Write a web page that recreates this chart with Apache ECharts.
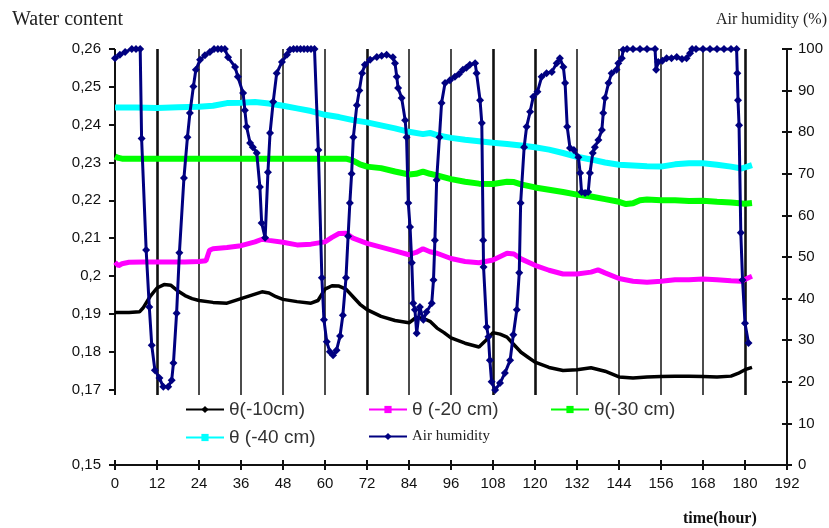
<!DOCTYPE html>
<html>
<head>
<meta charset="utf-8">
<script src="https://cdn.jsdelivr.net/npm/echarts@6/dist/echarts.min.js"></script>
<style>
  html, body { margin: 0; padding: 0; background: #fff; }
  #chart { width: 829px; height: 528px; }
</style>
</head>
<body>
<div id="chart"></div>
<script>
// Soil water content at four depths (left axis) and air humidity (right axis), [hour, value]
const theta10 = [[0,0.1903],[4,0.1903],[7,0.1905],[8,0.1915],[10,0.1945],[12,0.1968],[14,0.1977],[16,0.1975],[18,0.1960],[20,0.1948],[22,0.1940],[24,0.1935],[28,0.1930],[32,0.1928],[36,0.1940],[40,0.1952],[42,0.1958],[44,0.1955],[46,0.1945],[48,0.1938],[52,0.1932],[56,0.1928],[58,0.1935],[60,0.1965],[62,0.1974],[64,0.1973],[66,0.1965],[68,0.1945],[70,0.1925],[72,0.1911],[76,0.1893],[80,0.1882],[84,0.1876],[86,0.1890],[88,0.1888],[90,0.1880],[92,0.1862],[94,0.1850],[96,0.1836],[100,0.1822],[104,0.1812],[106,0.1830],[108,0.1850],[110,0.1846],[112,0.1838],[114,0.1818],[116,0.1798],[118,0.1785],[120,0.1772],[124,0.1758],[128,0.1750],[132,0.1752],[136,0.1757],[140,0.1748],[144,0.1733],[148,0.1730],[152,0.1733],[156,0.1734],[160,0.1735],[164,0.1735],[168,0.1734],[172,0.1733],[176,0.1735],[178,0.1742],[180,0.1752],[182,0.1758]];

const theta20 = [[0,0.2036],[1,0.2027],[2,0.2032],[4,0.2036],[8,0.2037],[12,0.2037],[16,0.2037],[20,0.2037],[24,0.2038],[26,0.2040],[27,0.2068],[28,0.2072],[32,0.2075],[36,0.2080],[40,0.2090],[42,0.2097],[44,0.2094],[48,0.2089],[52,0.2082],[56,0.2084],[60,0.2090],[62,0.2102],[64,0.2112],[66,0.2113],[68,0.2100],[72,0.2086],[76,0.2076],[80,0.2066],[84,0.2056],[86,0.2062],[88,0.2072],[90,0.2064],[92,0.2060],[96,0.2046],[100,0.2038],[104,0.2035],[108,0.2042],[112,0.2060],[114,0.2058],[116,0.2045],[120,0.2028],[124,0.2015],[128,0.2005],[132,0.2005],[136,0.2010],[138,0.2016],[140,0.2008],[144,0.1993],[148,0.1986],[152,0.1983],[156,0.1986],[160,0.1990],[164,0.1990],[168,0.1992],[172,0.1990],[176,0.1987],[179,0.1986],[181,0.1995],[182,0.1999]];

const theta30 = [[0,0.2316],[1,0.2312],[2,0.2310],[8,0.2310],[16,0.2310],[24,0.2310],[32,0.2310],[40,0.2310],[48,0.2310],[56,0.2310],[62,0.2310],[66,0.2310],[68,0.2305],[70,0.2295],[72,0.2289],[76,0.2285],[80,0.2276],[84,0.2268],[86,0.2270],[88,0.2276],[90,0.2270],[92,0.2266],[96,0.2256],[100,0.2249],[104,0.2244],[108,0.2243],[112,0.2249],[114,0.2248],[116,0.2242],[120,0.2234],[124,0.2228],[128,0.2222],[132,0.2215],[136,0.2210],[140,0.2203],[144,0.2196],[146,0.2190],[148,0.2192],[150,0.2200],[152,0.2202],[156,0.2200],[160,0.2200],[164,0.2198],[168,0.2199],[172,0.2196],[176,0.2194],[180,0.2191],[182,0.2193]];

const theta40 = [[0,0.2445],[6,0.2445],[12,0.2444],[18,0.2446],[24,0.2447],[28,0.2450],[32,0.2457],[36,0.2458],[40,0.2460],[44,0.2456],[48,0.2450],[52,0.2443],[56,0.2436],[60,0.2426],[64,0.2420],[68,0.2412],[72,0.2406],[76,0.2398],[80,0.2390],[84,0.2381],[88,0.2375],[90,0.2378],[92,0.2372],[96,0.2365],[100,0.2360],[104,0.2356],[108,0.2352],[112,0.2349],[116,0.2345],[120,0.2340],[124,0.2334],[128,0.2325],[132,0.2315],[136,0.2308],[140,0.2300],[144,0.2294],[148,0.2292],[152,0.2290],[156,0.2289],[160,0.2295],[164,0.2298],[168,0.2298],[172,0.2294],[176,0.2289],[179,0.2284],[182,0.2293]];

const airHumidity = [[0,97.8],[1.4,98.6],[2.9,99.3],[4.8,100],[6,100],[7.2,100],[7.6,78.5],[8.9,51.7],[9.8,38],[10.5,28.8],[11.4,22.8],[12.7,20.9],[13.8,18.8],[15.2,18.8],[16.2,20.4],[16.7,24.5],[17.6,36.5],[18.4,51],[19.7,69],[20.7,78.8],[21.4,84.6],[22.4,91],[23.1,95],[24.3,97.4],[25.7,98.5],[27.1,99.3],[28.3,100],[29.4,100],[30.4,100],[31.4,100],[32.3,98],[34.3,95.7],[35.1,93.3],[36.6,89.4],[37.1,85.3],[37.6,81.3],[38.6,77.4],[39.4,76.4],[40.5,75],[41.4,66.8],[41.9,58.2],[42.9,54.6],[43.7,70.4],[44.3,79.8],[45.2,87.3],[46.2,94.2],[47.7,96.9],[49.1,98.6],[50,99.8],[51,100],[52,100],[53,100],[54,100],[55,100],[56,100],[57,100],[58.1,75.7],[59.1,45],[59.7,34.9],[60.5,29.6],[61.4,27.2],[62.3,26.4],[63.3,27.6],[64.3,31],[65.1,36],[66,45],[66.6,55],[67.1,63],[67.6,70],[68.1,78.8],[69.1,86.5],[69.8,90],[70.6,94.2],[71.4,96.2],[72.9,97.4],[74.8,98.1],[76.2,98.4],[77.6,98.6],[79.4,98],[80,96.6],[80.5,93.3],[80.9,90.6],[81.9,88.2],[82.9,82.9],[83.3,78.8],[83.8,63],[84.3,57.2],[84.8,48.6],[85.2,38.9],[85.7,37.3],[86.2,31.7],[87.1,38],[88.1,34.9],[89,36.8],[90.5,38.9],[91,44.5],[91.4,54],[91.9,68.5],[92.7,78.8],[93.3,87],[94.3,91.8],[95.7,92.5],[97.1,93.3],[98.3,94],[99.4,95],[100.4,95.5],[101.4,96.2],[102.9,96.6],[103.3,94.2],[104.3,87.7],[104.8,82.2],[105.2,54],[105.3,47.6],[106.2,33.2],[106.7,30.8],[107.1,25.2],[107.6,20],[108.6,18],[110,19.7],[111.4,22.1],[112.9,25.2],[113.8,31.3],[114.8,37.3],[115.5,46.2],[115.9,63],[116.9,76.4],[117.6,81.3],[118.6,84.9],[119.5,88.5],[120.7,89.7],[121.9,93.3],[123.3,94.2],[124.8,94.5],[126.2,96.6],[127.1,97.8],[128.1,95.7],[128.6,91.8],[129.2,81.3],[130,76.2],[131.1,75.7],[132.4,74],[132.9,70.2],[133.3,65.6],[134.3,65.4],[135.2,65.6],[135.7,70.2],[136.5,75],[137.1,76.4],[138.1,78.1],[139.1,80.5],[139.5,84.6],[140,88.2],[141,91.8],[141.9,94.2],[143.3,95],[143.8,96.6],[144.8,97.8],[145.2,99.8],[146.3,100],[148,100],[150,100],[152,100],[154.3,100],[154.6,95],[155.2,96.9],[156.4,97.2],[157.6,97.8],[159,97.8],[160.5,98.1],[162,97.6],[163.3,97.8],[164.3,99],[164.9,100],[166,100],[168,100],[170,100],[172,100],[174,100],[176,100],[177.6,100],[177.8,94.2],[178,87.7],[178.3,81.7],[178.8,55.8],[179.3,44.5],[180,34.1],[181,29.3]];

// Axis ticks
const leftTicks = [0.15, 0.17, 0.18, 0.19, 0.2, 0.21, 0.22, 0.23, 0.24, 0.25, 0.26];
const dayLines = [12, 24, 36, 48, 60, 72, 84, 96, 108, 120, 132, 144, 156, 168, 180];
const heavyLines = [12, 72, 108, 120, 180];

const SANS = 'Liberation Sans, Arial, sans-serif';
const SERIF = 'Liberation Serif, Times New Roman, serif';
const INK = '#111';

// Vertical hour lines and the left axis stop above the legend band
const GUIDE_TOP = 0.26, GUIDE_BOTTOM = 0.1685;
const guideData = [[{ coord: [0, GUIDE_TOP], lineStyle: { width: 2, color: INK, type: 'solid' } }, { coord: [0, GUIDE_BOTTOM] }]]
  .concat(dayLines.map(h => [
    { coord: [h, GUIDE_TOP], lineStyle: { width: heavyLines.includes(h) ? 2.6 : 1.5, color: INK, type: 'solid' } },
    { coord: [h, GUIDE_BOTTOM] }
  ]));

function legendItem(name, left, top, serif) {
  return {
    data: [name], left: left, top: top, padding: 0, itemGap: 0,
    itemWidth: 38, itemHeight: 9, selectedMode: false,
    textStyle: serif
      ? { fontFamily: SERIF, fontSize: 15, color: '#222' }
      : { fontFamily: SANS, fontSize: 19, color: '#333' }
  };
}

const chart = echarts.init(document.getElementById('chart'), null, { renderer: 'canvas' });

chart.setOption({
  animation: false,
  backgroundColor: '#fff',
  title: [
    { text: 'Water content', left: 12, top: 10, padding: 0,
      textStyle: { fontFamily: SERIF, fontSize: 20, fontWeight: 'normal', color: '#222' } },
    { text: 'Air humidity (%)', right: 2, top: 12, padding: 0,
      textStyle: { fontFamily: SERIF, fontSize: 16, fontWeight: 'normal', color: '#222' } },
    { text: 'time(hour)', left: 683, top: 511, padding: 0,
      textStyle: { fontFamily: SERIF, fontSize: 16, fontWeight: 'bold', color: INK } }
  ],
  legend: [
    legendItem('θ(-10cm)', 185, 400),
    legendItem('θ (-20 cm)', 368, 400),
    legendItem('θ(-30 cm)', 550, 400),
    legendItem('θ (-40 cm)', 185, 428),
    legendItem('Air humidity', 368, 429, true)
  ],
  grid: { left: 115, right: 42, top: 49, bottom: 63, containLabel: false },
  xAxis: [
    {
      type: 'value', min: 0, max: 192, interval: 12, position: 'bottom',
      axisLine: { show: true, onZero: false, lineStyle: { color: INK, width: 2 } },
      axisTick: { show: true, inside: false, length: 5, lineStyle: { color: INK, width: 2 } },
      axisLabel: { color: INK, fontFamily: SANS, fontSize: 15, margin: 11 },
      splitLine: { show: false }
    },
    {
      type: 'value', min: 0, max: 192, interval: 12, position: 'bottom',
      axisLine: { show: false, onZero: false },
      axisTick: { show: true, inside: true, length: 5, lineStyle: { color: INK, width: 2 } },
      axisLabel: { show: false },
      splitLine: { show: false }
    }
  ],
  yAxis: [
    {
      type: 'value', min: 0.15, max: 0.26, interval: 0.01, position: 'left',
      axisLine: { show: false, onZero: false },
      axisTick: { show: true, inside: false, length: 6, customValues: leftTicks,
        lineStyle: { color: INK, width: 2 } },
      axisLabel: { color: INK, fontFamily: SANS, fontSize: 15, margin: 14, customValues: leftTicks,
        formatter: v => String(+(+v).toFixed(2)).replace('.', ',') },
      splitLine: { show: false }
    },
    {
      type: 'value', min: 0, max: 100, interval: 10, position: 'right',
      axisLine: { show: true, onZero: false, lineStyle: { color: INK, width: 2 } },
      axisTick: { show: true, inside: false, length: 5, lineStyle: { color: INK, width: 2 } },
      axisLabel: { color: INK, fontFamily: SANS, fontSize: 15, margin: 11 },
      splitLine: { show: false }
    },
    {
      type: 'value', min: 0, max: 100, interval: 10, position: 'right',
      axisLine: { show: false, onZero: false },
      axisTick: { show: true, inside: true, length: 5, lineStyle: { color: INK, width: 2 } },
      axisLabel: { show: false },
      splitLine: { show: false }
    }
  ],
  series: [
    {
      name: 'θ(-10cm)', type: 'line', xAxisIndex: 0, yAxisIndex: 0, data: theta10,
      symbol: 'diamond', symbolSize: 8, showSymbol: false, z: 3,
      lineStyle: { color: '#000', width: 3.5 }, itemStyle: { color: '#000' },
      markLine: { silent: true, z: 1, symbol: ['none', 'none'], label: { show: false },
        lineStyle: { type: 'solid' }, emphasis: { disabled: true }, data: guideData }
    },
    {
      name: 'θ (-20 cm)', type: 'line', xAxisIndex: 0, yAxisIndex: 0, data: theta20,
      symbol: 'rect', symbolSize: 8, showSymbol: false, z: 3,
      lineStyle: { color: '#ff00ff', width: 5 }, itemStyle: { color: '#ff00ff' }
    },
    {
      name: 'θ(-30 cm)', type: 'line', xAxisIndex: 0, yAxisIndex: 0, data: theta30,
      symbol: 'rect', symbolSize: 8, showSymbol: false, z: 3,
      lineStyle: { color: '#00ff00', width: 6 }, itemStyle: { color: '#00ff00' }
    },
    {
      name: 'θ (-40 cm)', type: 'line', xAxisIndex: 0, yAxisIndex: 0, data: theta40,
      symbol: 'rect', symbolSize: 8, showSymbol: false, z: 3,
      lineStyle: { color: '#00ffff', width: 6 }, itemStyle: { color: '#00ffff' }
    },
    {
      name: 'Air humidity', type: 'line', xAxisIndex: 0, yAxisIndex: 1, data: airHumidity,
      symbol: 'diamond', symbolSize: 8, showSymbol: true, showAllSymbol: true, z: 4,
      lineStyle: { color: '#000080', width: 3 }, itemStyle: { color: '#000080' }
    }
  ]
});
</script>
</body>
</html>
